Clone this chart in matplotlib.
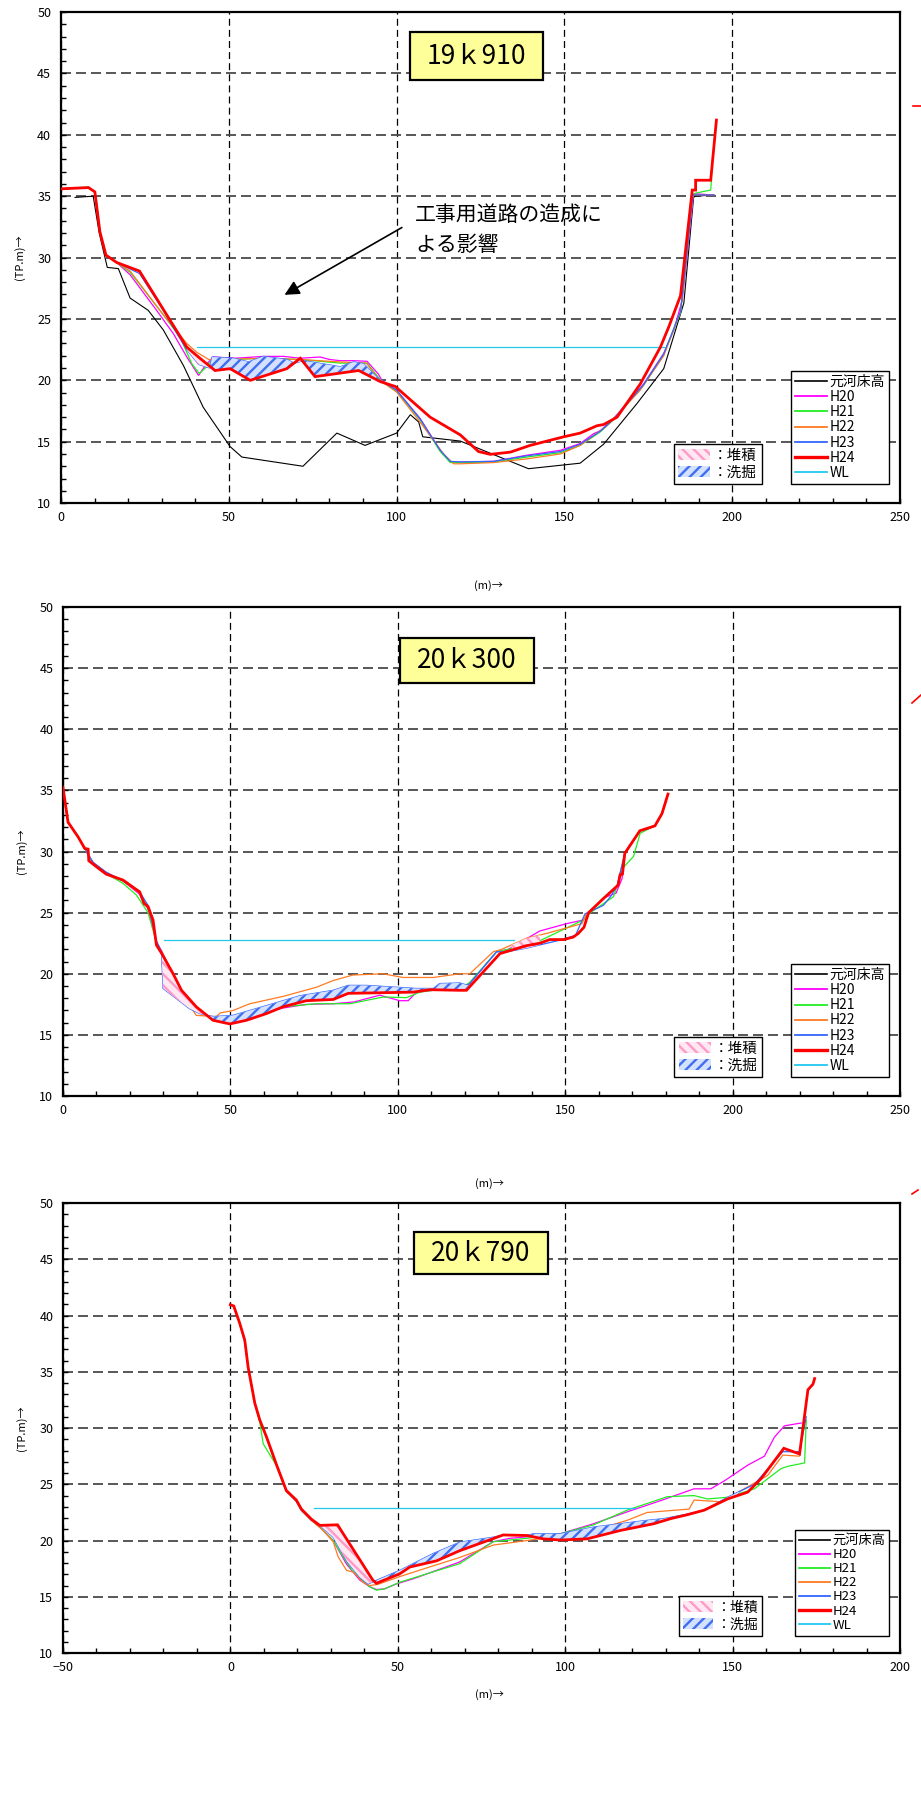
import numpy as np
import matplotlib
matplotlib.use("Agg")
import matplotlib.pyplot as plt
from matplotlib.lines import Line2D
from matplotlib.patches import Patch, Rectangle
from matplotlib.ticker import MultipleLocator

plt.rcParams['font.family'] = ['Noto Sans CJK JP', 'DejaVu Sans']
plt.rcParams['hatch.linewidth'] = 1.7
plt.rcParams['lines.scale_dashes'] = False

series_names = ['元河床高', 'H20', 'H21', 'H22', 'H23', 'H24', 'WL']

# ---------------- 19k910 ----------------
sec1_base_x = [4.2, 9.6, 11.4, 13.8, 17.1, 20.6, 26.0, 30.5, 36.5, 42.4, 50.4, 53.9, 72.1, 82.2, 90.6,
               100.0, 104.1, 106.6, 107.8, 119.0, 139.3, 154.7, 161.7, 171.6, 179.6, 185.6, 188.5, 189.0, 194.5]
sec1_base_y = [34.9, 35.0, 32.0, 29.2, 29.1, 26.7, 25.7, 24.1, 21.2, 17.8, 14.6, 13.75, 13.0, 15.7, 14.7,
               15.7, 17.2, 16.6, 15.4, 15.05, 12.8, 13.25, 14.8, 18.1, 20.95, 26.3, 34.9, 35.0, 35.1]

sec1_h20_x = [0, 8.2, 10.1, 11.6, 13.4, 16.6, 20.6, 28.5, 33.5, 37.5, 41.0, 43.0, 45.4, 52.0, 60.3, 66.3,
              71.3, 77.2, 80.0, 83.2, 87.2, 91.2, 94.6, 95.6, 100.0, 107.0, 113.0, 116.0, 119.0, 128.9,
              138.8, 148.8, 154.7, 158.7, 160.7, 164.7, 173.6, 179.6, 182.6, 185.1, 188.5, 194.5]
sec1_h20_y = [35.6, 35.7, 35.35, 32.1, 30.2, 29.6, 28.6, 25.7, 23.8, 21.9, 20.4, 21.2, 21.9, 21.8, 21.95, 21.95,
              21.8, 21.9, 21.7, 21.6, 21.6, 21.55, 20.5, 20.0, 19.2, 16.9, 14.3, 13.35, 13.35, 13.4,
              13.9, 14.3, 14.85, 15.65, 15.9, 16.9, 19.7, 22.2, 24.1, 26.5, 35.2, 35.1]

sec1_h21_x = [0, 8.2, 10.1, 11.6, 13.4, 16.6, 20.6, 29.5, 35.5, 39.0, 41.2, 43.4, 45.4, 52.0, 60.3, 71.3,
              83.2, 91.2, 95.3, 100.0, 107.0, 113.0, 116.0, 119.0, 128.9, 138.8, 148.8, 154.7, 160.7,
              164.7, 173.6, 179.6, 184.6, 188.3, 189.1, 193.6, 193.8]
sec1_h21_y = [35.6, 35.75, 35.35, 32.1, 30.2, 29.6, 28.8, 25.7, 23.5, 21.35, 20.55, 21.1, 21.8, 21.7, 21.8, 21.7,
              21.4, 21.4, 20.0, 19.1, 16.8, 14.2, 13.3, 13.3, 13.35, 13.75, 14.1, 14.7, 15.8,
              16.8, 19.6, 22.1, 25.5, 35.1, 35.25, 35.5, 36.3]

sec1_h22_x = [0, 8.2, 10.1, 11.6, 13.4, 16.6, 20.6, 30.0, 37.5, 40.4, 44.0, 50.0, 60.0, 71.0, 83.0, 91.0,
              95.0, 100.0, 107.0, 114.0, 117.0, 119.0, 128.9, 138.8, 148.8, 154.7, 162.7, 172.6, 179.6,
              184.6, 188.3, 194.5]
sec1_h22_y = [35.6, 35.7, 35.35, 32.1, 30.2, 29.6, 28.9, 25.5, 23.0, 22.3, 21.7, 21.7, 21.8, 21.7, 21.5, 21.4,
              20.0, 19.05, 16.6, 14.0, 13.2, 13.2, 13.3, 13.6, 14.0, 14.7, 16.3, 19.2, 22.0,
              25.6, 35.1, 35.1]

sec1_h23_x = [0, 8.2, 10.1, 11.6, 13.4, 16.6, 23.4, 30.0, 35.0, 37.5, 41.0, 44.4, 45.0, 51.4, 55.9, 60.3,
              67.3, 69.5, 72.3, 81.2, 83.2, 87.2, 90.2, 95.1, 100.0, 107.0, 113.0, 116.0, 119.0, 128.9,
              138.8, 148.8, 154.7, 160.7, 164.7, 173.6, 179.6, 184.6, 188.3, 194.5]
sec1_h23_y = [35.6, 35.7, 35.35, 32.1, 30.2, 29.6, 28.7, 25.9, 23.6, 22.5, 21.3, 21.0, 21.9, 21.8, 21.5, 21.95,
              21.7, 21.4, 21.6, 21.2, 21.1, 21.5, 21.35, 20.0, 19.2, 16.85, 14.3, 13.4, 13.35, 13.4,
              13.85, 14.2, 14.8, 15.85, 16.85, 19.65, 22.15, 25.6, 35.1, 35.1]

sec1_h24_x = [0, 8.2, 10.1, 11.6, 13.4, 16.6, 23.4, 32.5, 37.5, 41.4, 45.9, 50.4, 56.4, 67.3, 71.3, 75.7,
              88.7, 95.1, 99.6, 110.0, 119.0, 124.4, 127.9, 133.9, 139.8, 149.8, 154.7, 159.7, 161.7,
              165.7, 172.6, 178.6, 181.1, 184.6, 188.1, 189.1, 189.1, 193.6, 195.3]
sec1_h24_y = [35.6, 35.7, 35.35, 32.1, 30.2, 29.6, 28.9, 24.9, 22.7, 21.8, 20.8, 20.95, 20.0, 20.95, 21.8, 20.3,
              20.8, 19.9, 19.5, 17.0, 15.55, 14.2, 13.97, 14.15, 14.7, 15.4, 15.7, 16.3, 16.4,
              17.0, 19.7, 22.7, 24.35, 26.9, 35.5, 35.5, 36.3, 36.3, 41.2]

sec1_wl_x = [40.4, 179.6]
sec1_wl_y = [22.75, 22.75]

# ---------------- 20k300 ----------------
sec2_h20_x = [0, 1.5, 4.5, 7.0, 9.0, 12.9, 17.9, 22.9, 25.4, 27.9, 29.4, 32.9, 35.4, 39.8, 44.8, 49.8,
              54.8, 60.8, 65.7, 72.7, 80.7, 87.0, 94.6, 100.6, 103.1, 105.6, 110.6, 118.5, 121.5, 129.5,
              133.0, 142.4, 150.4, 155.4, 158.0, 161.4, 165.2, 167.0, 167.8, 169.8, 172.3, 176.8, 178.9, 180.7]
sec2_h20_y = [35.25, 32.4, 31.2, 30.0, 29.1, 28.3, 27.6, 26.5, 25.3, 22.6, 21.9, 19.9, 18.6, 17.2, 16.3, 16.1,
              16.4, 16.9, 17.2, 17.5, 17.55, 17.7, 18.25, 17.8, 17.8, 18.5, 18.65, 18.75, 19.2, 21.8,
              22.0, 23.5, 24.1, 24.4, 25.2, 26.2, 26.6, 27.8, 29.9, 30.7, 31.7, 32.1, 33.1, 34.7]

sec2_h21_x = [0, 1.5, 4.5, 7.0, 9.0, 12.9, 17.9, 21.9, 25.4, 27.9, 29.4, 32.9, 35.4, 39.8, 45.8, 49.8,
              54.8, 65.7, 75.7, 85.7, 95.6, 102.6, 106.6, 110.6, 118.5, 121.5, 129.5, 133.0, 142.4,
              155.4, 157.5, 164.4, 167.4, 170.4, 172.4, 176.8, 178.9, 180.7]
sec2_h21_y = [35.25, 32.4, 31.2, 30.0, 29.0, 28.2, 27.4, 26.45, 25.0, 22.6, 21.8, 19.9, 18.6, 17.1, 16.2, 16.3,
              16.5, 17.3, 17.55, 17.55, 18.1, 18.05, 18.5, 18.65, 18.75, 19.3, 21.8, 22.0, 22.7,
              24.4, 25.0, 26.3, 28.7, 29.6, 31.5, 32.1, 33.1, 34.7]

sec2_h22_x = [0, 1.5, 4.5, 7.0, 9.0, 12.9, 17.9, 22.9, 25.4, 27.9, 29.4, 32.9, 35.4, 39.8, 45.8, 47.0,
              50.8, 55.8, 65.7, 75.7, 80.7, 86.6, 95.6, 101.6, 110.6, 118.5, 121.5, 128.5, 131.0, 138.4,
              144.4, 155.0, 156.3, 158.8, 161.4, 165.5, 167.8, 172.3, 176.8, 178.9, 180.7]
sec2_h22_y = [35.25, 32.4, 31.2, 30.0, 29.1, 28.3, 27.6, 26.6, 25.4, 22.6, 21.8, 19.9, 18.4, 16.6, 16.5, 16.8,
              17.0, 17.55, 18.15, 18.9, 19.45, 19.9, 20.0, 19.7, 19.7, 20.0, 20.0, 21.8, 22.0, 22.9,
              23.3, 24.1, 24.9, 25.5, 26.2, 27.2, 29.9, 31.7, 32.1, 33.1, 34.7]

sec2_h23_x = [0, 1.5, 4.5, 7.0, 9.0, 12.9, 17.9, 22.9, 25.4, 27.9, 29.4, 29.9, 37.8, 40.8, 44.8, 50.8,
              60.8, 70.7, 80.7, 85.2, 90.6, 105.6, 110.6, 112.5, 118.5, 121.0, 129.5, 132.5, 138.4, 148.4,
              153.1, 155.9, 161.4, 163.5, 165.5, 167.8, 172.3, 176.8, 178.9, 180.7]
sec2_h23_y = [35.25, 32.4, 31.2, 30.0, 29.1, 28.3, 27.6, 26.7, 25.6, 22.7, 21.8, 18.8, 17.15, 16.75, 16.5, 16.6,
              17.4, 18.2, 18.65, 19.05, 19.05, 18.8, 18.8, 19.2, 19.25, 19.05, 21.8, 21.8, 22.1, 22.75,
              23.15, 24.9, 25.6, 26.3, 27.2, 29.85, 31.7, 32.1, 33.1, 34.7]

sec2_h24_x = [0, 1.5, 4.5, 6.5, 7.5, 7.7, 10.0, 12.9, 17.9, 22.9, 24.2, 25.4, 26.9, 27.9, 29.4, 32.9,
              35.4, 39.8, 44.8, 49.8, 54.8, 60.8, 65.7, 72.7, 80.7, 85.2, 104.6, 109.6, 118.5, 120.5,
              130.5, 138.4, 142.4, 145.4, 149.5, 152.4, 153.9, 155.6, 157.0, 161.4, 165.8, 166.4, 167.1,
              167.8, 172.3, 176.8, 178.9, 180.7]
sec2_h24_y = [35.25, 32.4, 31.2, 30.25, 30.2, 29.25, 28.75, 28.15, 27.67, 26.7, 25.75, 25.5, 24.4, 22.35, 21.7, 20.0,
              18.65, 17.3, 16.2, 15.9, 16.2, 16.75, 17.3, 17.8, 17.9, 18.4, 18.5, 18.7, 18.65, 18.65,
              21.65, 22.3, 22.5, 22.8, 22.8, 23.0, 23.3, 23.8, 25.0, 26.15, 27.25, 28.1, 28.15,
              29.85, 31.7, 32.1, 33.1, 34.7]

sec2_wl_x = [30.1, 134.8]
sec2_wl_y = [22.77, 22.77]

# ---------------- 20k790 ----------------
sec3_h20_x = [0, 1.0, 2.8, 4.3, 5.3, 7.3, 8.8, 10.8, 13.7, 16.7, 19.7, 21.2, 24.2, 26.7, 30.7, 34.7,
              38.6, 41.6, 43.6, 46.0, 49.6, 54.6, 68.5, 78.5, 83.5, 98.5, 108.5, 118.5, 128.5, 138.5,
              143.5, 147.5, 154.5, 159.5, 162.5, 165.5, 170.5]
sec3_h20_y = [40.96, 40.85, 39.3, 37.8, 35.4, 32.2, 30.7, 29.1, 26.7, 24.4, 23.5, 22.7, 21.8, 21.2, 20.0, 17.9,
              16.5, 15.9, 15.65, 15.7, 16.15, 16.6, 18.1, 19.9, 20.2, 20.6, 21.5, 22.55, 23.55, 24.6,
              24.6, 25.3, 26.7, 27.5, 29.2, 30.2, 30.45]

sec3_h21_x = [0, 1.0, 2.8, 4.3, 5.3, 7.3, 8.8, 9.8, 13.7, 16.7, 19.7, 21.2, 24.2, 26.7, 30.7, 34.0,
              36.5, 39.6, 41.6, 43.6, 46.0, 50.6, 68.5, 78.5, 88.5, 98.5, 108.5, 118.5, 130.5, 138.5,
              142.5, 148.5, 156.5, 164.5, 166.5, 171.5, 172.0]
sec3_h21_y = [40.96, 40.85, 39.3, 37.6, 35.4, 32.2, 30.5, 28.6, 26.7, 24.4, 23.5, 22.7, 21.8, 21.2, 20.0, 18.4,
              17.3, 16.4, 15.9, 15.6, 15.7, 16.3, 17.95, 19.9, 20.2, 20.6, 21.4, 22.7, 23.9, 24.0,
              23.7, 23.85, 24.6, 26.4, 26.6, 26.9, 30.7]

sec3_h22_x = [0, 1.0, 2.8, 4.3, 5.3, 7.3, 8.8, 10.8, 13.7, 16.7, 19.7, 21.2, 24.2, 27.7, 30.7, 32.2,
              34.7, 36.7, 39.6, 41.6, 44.0, 50.6, 60.0, 68.5, 78.5, 88.5, 108.5, 118.5, 124.5, 137.0,
              138.5, 146.5, 153.5, 160.5, 165.0, 170.0, 172.3]
sec3_h22_y = [40.96, 40.85, 39.3, 37.8, 35.4, 32.2, 30.7, 29.2, 26.8, 24.4, 23.5, 22.7, 21.8, 20.9, 19.9, 18.55,
              17.35, 17.2, 16.3, 16.0, 16.1, 16.8, 17.7, 18.5, 19.6, 20.0, 20.9, 21.8, 22.5, 22.8,
              23.6, 23.45, 24.6, 25.8, 27.6, 27.5, 33.0]

sec3_h23_x = [0, 1.0, 2.8, 4.3, 5.3, 7.3, 8.8, 10.8, 13.7, 16.7, 19.7, 21.2, 24.2, 26.7, 30.7, 34.7,
              38.6, 41.1, 43.1, 50.6, 60.6, 68.5, 78.5, 81.5, 88.5, 90.5, 98.5, 108.5, 116.5, 124.5,
              129.5, 136.5, 141.5, 148.5, 156.5, 165.0, 170.0, 172.0]
sec3_h23_y = [40.96, 40.85, 39.3, 37.8, 35.4, 32.2, 30.7, 29.2, 26.8, 24.4, 23.5, 22.7, 21.85, 21.35, 20.3, 18.2,
              16.75, 16.15, 16.4, 17.35, 18.85, 19.85, 20.3, 20.5, 20.45, 20.6, 20.6, 21.2, 21.5, 21.8,
              21.95, 22.35, 22.7, 23.85, 25.0, 27.9, 27.9, 31.0]

sec3_h24_x = [0, 1.0, 2.8, 4.3, 5.3, 7.3, 8.8, 10.8, 13.7, 16.7, 19.7, 21.2, 24.2, 26.7, 32.0, 42.5,
              43.6, 50.6, 53.6, 61.6, 68.5, 81.5, 88.5, 93.5, 98.5, 106.5, 116.5, 126.5, 131.5, 136.5,
              141.5, 148.5, 154.5, 158.5, 165.3, 170.0, 172.5, 174.0, 174.5]
sec3_h24_y = [40.96, 40.85, 39.3, 37.8, 35.4, 32.2, 30.7, 29.2, 26.8, 24.45, 23.6, 22.8, 21.9, 21.35, 21.4, 16.5,
              16.2, 17.05, 17.65, 18.2, 19.1, 20.5, 20.45, 20.15, 20.05, 20.15, 20.9, 21.5, 21.95, 22.3,
              22.7, 23.7, 24.3, 25.5, 28.2, 27.7, 33.4, 33.9, 34.4]

sec3_wl_x = [25.0, 120.8]
sec3_wl_y = [22.9, 22.9]

STYLE = {
    '元河床高': dict(color='black', lw=0.8, zorder=2.0),
    'H20': dict(color='#ff00ff', lw=0.9, zorder=2.1),
    'H21': dict(color='#22ee22', lw=0.9, zorder=2.1),
    'H22': dict(color='#ff7a22', lw=0.9, zorder=2.1),
    'H23': dict(color='#3366ff', lw=0.9, zorder=2.1),
    'H24': dict(color='#ff0000', lw=2.0, zorder=4.0),
    'WL': dict(color='#22c8f0', lw=0.9, zorder=2.2),
}
DEP = dict(facecolor='#ffe8f2', edgecolor='#ff99c8', hatch='\\\\\\')
SCOUR = dict(facecolor='#d3e0ff', edgecolor='#3f6fee', hatch='///')


def shade(ax, xa, ya, xb, yb, lo, hi):
    # pink where the first profile lies above the second, blue where below
    grid = np.linspace(lo, hi, 800)
    a = np.interp(grid, xa, ya)
    b = np.interp(grid, xb, yb)
    ax.fill_between(grid, a, b, where=a >= b, interpolate=True, lw=0, zorder=2.5, **DEP)
    ax.fill_between(grid, a, b, where=a < b, interpolate=True, lw=0, zorder=2.5, **SCOUR)


def draw_section(ax, title, lines, xlim, box, xlabel_y, leg_fs):
    for name in series_names:
        if name in lines:
            x, y = lines[name]
            ax.plot(x, y, solid_joinstyle='miter', **STYLE[name])

    ax.set_xlim(*xlim)
    ax.set_ylim(10, 50)
    ax.set_xticks(np.arange(xlim[0], xlim[1] + 1, 50))
    ax.set_yticks(np.arange(10, 51, 5))
    ax.xaxis.set_minor_locator(MultipleLocator(10))
    ax.yaxis.set_minor_locator(MultipleLocator(1))
    ax.tick_params(which='both', direction='in', length=3.5, width=1, labelsize=9)
    ax.tick_params(axis='y', pad=7)
    ax.tick_params(axis='x', pad=6)
    ax.xaxis.grid(True, color='black', lw=0.9, linestyle=(0, (5, 3)))
    ax.yaxis.grid(True, color='#4a4a4a', lw=1.3, linestyle=(0, (7.2, 3.6)))
    ax.set_axisbelow(True)
    for sp in ax.spines.values():
        sp.set_linewidth(1.6)

    ax.set_ylabel('(TP.m)→', fontsize=8, labelpad=9)
    ax.text(0.51, xlabel_y, '(m)→', transform=ax.transAxes, ha='center', va='center', fontsize=8)

    bx, by, bw, bh = box
    ax.add_patch(Rectangle((bx, by), bw, bh, transform=ax.transAxes, facecolor='#ffff99',
                           edgecolor='black', lw=1.6, zorder=6))
    ax.text(bx + bw / 2, by + bh / 2, title, transform=ax.transAxes, ha='center', va='center',
            fontsize=19, zorder=7)

    handles = [Line2D([], [], color=STYLE[n]['color'], lw=STYLE[n]['lw'] + 0.4) for n in series_names]
    leg = ax.legend(handles, series_names, loc='lower right', bbox_to_anchor=(0.987, 0.039),
                    borderaxespad=0, fontsize=leg_fs, handlelength=2.3, handletextpad=0.2,
                    labelspacing=0.08, borderpad=0.3, fancybox=False, edgecolor='black', framealpha=1)
    leg.get_frame().set_linewidth(1.0)
    ax.add_artist(leg)

    hatch_handles = [Patch(lw=0, **DEP), Patch(lw=0, **SCOUR)]
    leg2 = ax.legend(hatch_handles, ['：堆積', '：洗掘'], loc='lower right', bbox_to_anchor=(0.835, 0.039),
                     borderaxespad=0, fontsize=leg_fs + 0.5, handlelength=2.2, handleheight=0.8,
                     handletextpad=0.2, labelspacing=0.2, borderpad=0.3, fancybox=False,
                     edgecolor='black', framealpha=1)
    leg2.get_frame().set_linewidth(1.0)


fig = plt.figure(figsize=(9.21, 17.98), dpi=100)
ax1 = fig.add_axes([0.0662, 0.7202, 0.911, 0.2731])
ax2 = fig.add_axes([0.0684, 0.3904, 0.9088, 0.2720])
ax3 = fig.add_axes([0.0684, 0.0806, 0.9088, 0.2503])

# 19k910
shade(ax1, sec1_h24_x, sec1_h24_y, sec1_h23_x, sec1_h23_y, 37.5, 96.0)
draw_section(ax1, '19ｋ910', {
    '元河床高': (sec1_base_x, sec1_base_y),
    'H20': (sec1_h20_x, sec1_h20_y), 'H21': (sec1_h21_x, sec1_h21_y),
    'H22': (sec1_h22_x, sec1_h22_y), 'H23': (sec1_h23_x, sec1_h23_y),
    'H24': (sec1_h24_x, sec1_h24_y), 'WL': (sec1_wl_x, sec1_wl_y)},
    (0, 250), (0.416, 0.8615, 0.1585, 0.0978), -0.167, 10)
ax1.annotate('', xy=(65.9, 26.85), xytext=(102.3, 32.56),
             arrowprops=dict(arrowstyle='-|>', color='black', lw=1.2, mutation_scale=22))
ax1.text(105.5, 33.45, '工事用道路の造成に', fontsize=15, ha='left', va='center')
ax1.text(105.5, 31.0, 'よる影響', fontsize=15, ha='left', va='center')

# 20k300
shade(ax2, sec2_h24_x, sec2_h24_y, sec2_h23_x, sec2_h23_y, 29.4, 121.0)
shade(ax2, sec2_h22_x, sec2_h22_y, sec2_h23_x, sec2_h23_y, 134.0, 142.5)
draw_section(ax2, '20ｋ300', {
    'H20': (sec2_h20_x, sec2_h20_y), 'H21': (sec2_h21_x, sec2_h21_y),
    'H22': (sec2_h22_x, sec2_h22_y), 'H23': (sec2_h23_x, sec2_h23_y),
    'H24': (sec2_h24_x, sec2_h24_y), 'WL': (sec2_wl_x, sec2_wl_y)},
    (0, 250), (0.4026, 0.8446, 0.160, 0.0926), -0.178, 10)

# 20k790
shade(ax3, sec3_h24_x, sec3_h24_y, sec3_h23_x, sec3_h23_y, 26.7, 152.0)
draw_section(ax3, '20ｋ790', {
    'H20': (sec3_h20_x, sec3_h20_y), 'H21': (sec3_h21_x, sec3_h21_y),
    'H22': (sec3_h22_x, sec3_h22_y), 'H23': (sec3_h23_x, sec3_h23_y),
    'H24': (sec3_h24_x, sec3_h24_y), 'WL': (sec3_wl_x, sec3_wl_y)},
    (-50, 200), (0.4194, 0.8422, 0.160, 0.0933), -0.093, 9.5)

# stray red strokes at the right margin
W, H = 921.0, 1798.0
for (x0, y0), (x1, y1) in [((913, 106), (921, 106)), ((912, 703), (921, 695)), ((912, 1194), (918, 1190))]:
    fig.add_artist(Line2D([x0 / W, x1 / W], [1 - y0 / H, 1 - y1 / H], transform=fig.transFigure,
                          color='red', lw=1.2))

fig.savefig('out.png', dpi=100)
